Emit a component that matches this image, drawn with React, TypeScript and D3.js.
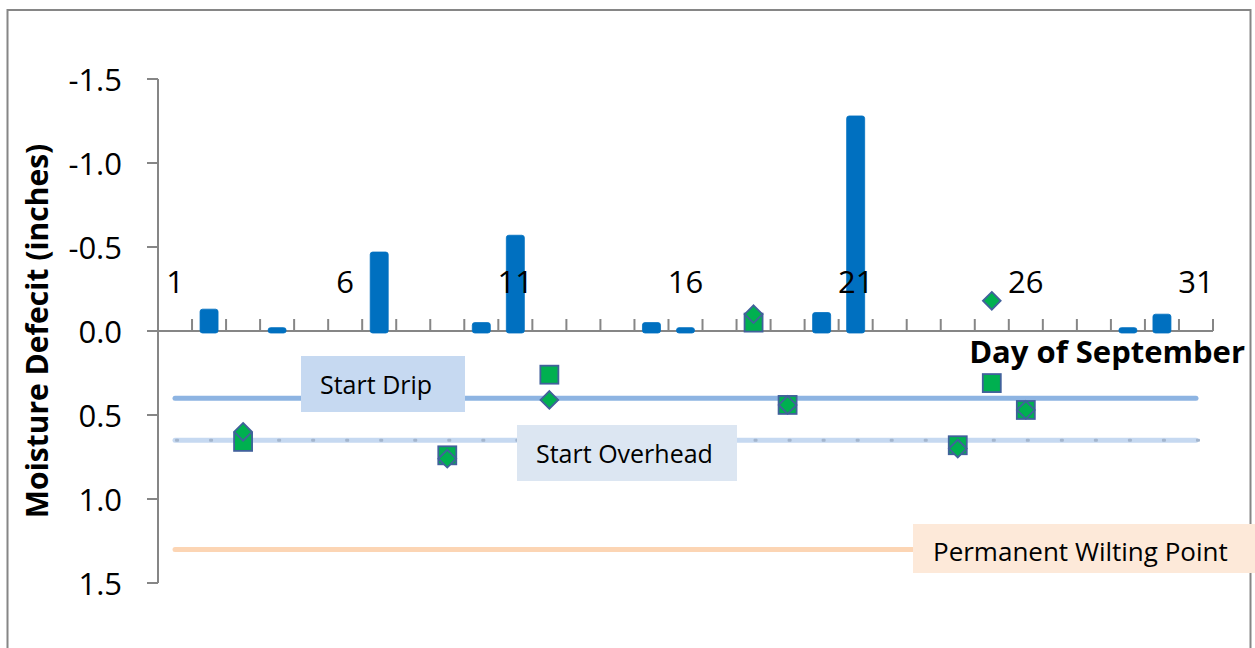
import React from "react";
import * as d3 from "d3";

const days = [1,2,3,4,5,6,7,8,9,10,11,12,13,14,15,16,17,18,19,20,21,22,23,24,25,26,27,28,29,30,31];
const xLabelDays = [1, 6, 11, 16, 21, 26, 31];
const yTicks = [-1.5, -1.0, -0.5, 0.0, 0.5, 1.0, 1.5];
const yTickLabels = ["-1.5", "-1.0", "-0.5", "0.0", "0.5", "1.0", "1.5"];

const barDays = [2, 4, 7, 10, 11, 15, 16, 20, 21, 29, 30];
const barValues = [-0.13, -0.02, -0.47, -0.05, -0.57, -0.05, -0.02, -0.11, -1.28, -0.02, -0.10];

const squareDays = [3, 9, 12, 18, 19, 24, 25, 26];
const squareValues = [0.66, 0.74, 0.26, -0.05, 0.44, 0.68, 0.31, 0.47];

const diamondDays = [3, 9, 12, 18, 19, 24, 25, 26];
const diamondValues = [0.60, 0.76, 0.41, -0.10, 0.44, 0.70, -0.18, 0.47];

const refNames = ["Start Drip", "Start Overhead", "Permanent Wilting Point"];
const refValues = [0.40, 0.65, 1.30];

const FONT = "'Open Sans', 'DejaVu Sans', sans-serif";
const AXIS = "#868686";

export default function App() {
  const W = 1255, H = 648;
  const x = d3.scaleBand<number>().domain(days).range([158, 1213]).padding(0);
  const y = d3.scaleLinear().domain([-1.5, 1.5]).range([79, 583]);
  const cx = (d: number) => (x(d) as number) + x.bandwidth() / 2;
  const y0 = y(0);
  const barW = 18;
  const xStart = cx(days[0]);
  const xEnd = cx(days[days.length - 1]);
  const boundaries = days.map((d) => x(d) as number).concat([1213]);
  const diamond = d3.symbol().type(d3.symbolDiamond2).size(200);

  return (
    <svg width={W} height={H} style={{ position: "absolute", left: 0, top: 0, background: "#fff" }} fontFamily={FONT}>
      <rect x={7.5} y={10} width={1243} height={700} fill="#fff" stroke={AXIS} strokeWidth={2} />

      {/* reference lines */}
      <line x1={xStart} x2={xEnd} y1={y(refValues[0])} y2={y(refValues[0])} stroke="#8DB4E2" strokeWidth={5} strokeLinecap="round" />
      <line x1={xStart} x2={xEnd} y1={y(refValues[1])} y2={y(refValues[1])} stroke="#C6D9F1" strokeWidth={5} strokeLinecap="round" />
      {days.map((d) => (
        <rect key={"dot" + d} x={cx(d)} y={y(refValues[1]) - 1.5} width={4} height={3} rx={1} fill="#A3B5CD" />
      ))}
      <line x1={xStart} x2={xEnd} y1={y(refValues[2])} y2={y(refValues[2])} stroke="#FCD5B4" strokeWidth={5} strokeLinecap="round" />

      {/* label boxes */}
      <rect x={301} y={356} width={164} height={56} fill="#C6D9F1" />
      <text x={320} y={394} fontSize={25} fill="#000">{refNames[0]}</text>
      <rect x={517} y={425} width={220} height={56} fill="#DCE6F2" />
      <text x={536} y={463} fontSize={25} fill="#000">{refNames[1]}</text>
      <rect x={913} y={524} width={342} height={49} fill="#FDE9D9" />
      <text x={933} y={561} fontSize={26} fill="#000">{refNames[2]}</text>

      {/* axes */}
      <line x1={158} x2={158} y1={y(-1.5)} y2={y(1.5)} stroke={AXIS} strokeWidth={2} />
      {yTicks.map((t, i) => (
        <g key={"yt" + i}>
          <line x1={147} x2={158} y1={y(t)} y2={y(t)} stroke={AXIS} strokeWidth={2} />
          <text x={122} y={y(t)} textAnchor="end" dominantBaseline="central" fontSize={31} fill="#000">{yTickLabels[i]}</text>
        </g>
      ))}
      <line x1={147} x2={1213} y1={y0} y2={y0} stroke={AXIS} strokeWidth={2} />
      {boundaries.map((b, i) => (
        <line key={"xt" + i} x1={b} x2={b} y1={y0 - 12} y2={y0} stroke={AXIS} strokeWidth={2} />
      ))}

      {/* bars */}
      {barDays.map((d, i) => {
        const top = y(barValues[i]);
        return (
          <rect key={"b" + d} x={cx(d) - barW / 2} y={top} width={barW} height={y0 - top + 2} rx={2.5}
            fill="#0070C0" stroke="#0070C0" strokeWidth={0.8} />
        );
      })}

      {/* x labels on top of bars */}
      {xLabelDays.map((d) => (
        <text key={"xl" + d} x={cx(d)} y={293} textAnchor="middle" fontSize={31} fill="#000">{String(d)}</text>
      ))}

      {/* squares */}
      {squareDays.map((d, i) => (
        <rect key={"s" + d} x={cx(d) - 9} y={y(squareValues[i]) - 9} width={18} height={18}
          fill="#00B050" stroke="#41619B" strokeWidth={1.8} />
      ))}
      {/* diamonds */}
      {diamondDays.map((d, i) => (
        <path key={"d" + d} d={diamond() as string} transform={`translate(${cx(d)},${y(diamondValues[i])})`}
          fill="#00B050" stroke="#41619B" strokeWidth={1.8} />
      ))}

      {/* titles */}
      <text x={1245} y={363} textAnchor="end" fontSize={31} fontWeight="bold" fill="#000">Day of September</text>
      <text transform={`translate(48,${y0}) rotate(-90)`} textAnchor="middle" fontSize={30} fontWeight="bold" fill="#000">Moisture Defecit (inches)</text>
    </svg>
  );
}
